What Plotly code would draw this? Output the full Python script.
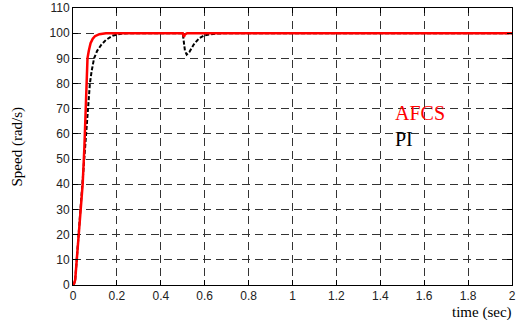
import plotly.graph_objects as go

# Time (sec) and speed (rad/s) samples
afcs_t = [0, 0.005, 0.01, 0.017, 0.03, 0.044, 0.052, 0.059, 0.063, 0.066, 0.072, 0.08, 0.09, 0.1,
          0.12, 0.15, 0.2, 0.5, 0.505, 0.51, 0.52, 0.6, 1.0, 2.0]
afcs_v = [0, 0.5, 2, 10, 25, 40, 55, 70, 80, 90, 93, 96, 97.8, 98.8,
          99.6, 100, 100, 100, 98.5, 99.5, 100, 100, 100, 100]

pi_t = [0, 0.005, 0.01, 0.017, 0.03, 0.044, 0.052, 0.06, 0.065, 0.07, 0.077, 0.085, 0.096, 0.11,
        0.13, 0.15, 0.18, 0.22, 0.25, 0.5, 0.503, 0.51, 0.518, 0.53, 0.55, 0.575, 0.6, 0.65, 0.7, 2.0]
pi_v = [0, 0.5, 2, 10, 25, 40, 52, 60, 65, 70, 80, 85, 90, 93,
        95.5, 97.3, 99, 99.8, 100, 100, 97, 93, 91.5, 92.5, 95.5, 98, 99.2, 99.8, 100, 100]

x_ticks = [0, 0.2, 0.4, 0.6, 0.8, 1, 1.2, 1.4, 1.6, 1.8, 2]
y_ticks = [0, 10, 20, 30, 40, 50, 60, 70, 80, 90, 100, 110]

fig = go.Figure()
fig.add_trace(go.Scatter(x=pi_t, y=pi_v, mode="lines", name="PI",
                         line=dict(color="black", width=2, dash="4px,2px")))
fig.add_trace(go.Scatter(x=afcs_t, y=afcs_v, mode="lines", name="AFCS",
                         line=dict(color="#ff0000", width=2.5)))

axis_common = dict(showline=True, linecolor="black", linewidth=1, mirror="ticks",
                   ticks="inside", ticklen=5, tickcolor="black", automargin=False,
                   showgrid=True, gridcolor="#333333", gridwidth=1, griddash="8px,5px",
                   zeroline=False, tickfont=dict(family="Liberation Sans, Arial", size=12, color="#222222"))

fig.update_xaxes(range=[0, 2], tickvals=x_ticks, ticktext=[str(v) for v in x_ticks], **axis_common)
fig.update_yaxes(range=[0, 110], tickvals=y_ticks, ticktext=[str(v) for v in y_ticks], **axis_common)

serif = "Liberation Serif, Times New Roman"
fig.add_annotation(x=1.458, y=68.3, xref="x", yref="y", text="AFCS", showarrow=False, xanchor="left",
                   font=dict(family=serif, size=20, color="#ff0000"))
fig.add_annotation(x=1.458, y=58, xref="x", yref="y", text="PI", showarrow=False, xanchor="left",
                   font=dict(family=serif, size=20, color="black"))
fig.add_annotation(x=1, y=0, xref="paper", yref="paper", yshift=-17, xshift=2, text="time (sec)", showarrow=False,
                   xanchor="right", yanchor="top",
                   font=dict(family=serif, size=15, color="black"))
fig.add_annotation(x=0, y=0.5, xref="paper", yref="paper", xshift=-56, text="Speed (rad/s)", showarrow=False,
                   textangle=-90, xanchor="center", yanchor="middle",
                   font=dict(family=serif, size=15, color="black"))

fig.update_layout(width=518, height=320, margin=dict(l=73, r=6, t=8, b=35),
                  paper_bgcolor="white", plot_bgcolor="white", showlegend=False)

fig.write_html("out.html", config={"displayModeBar": False},
               post_script="document.body.style.margin='0';")
